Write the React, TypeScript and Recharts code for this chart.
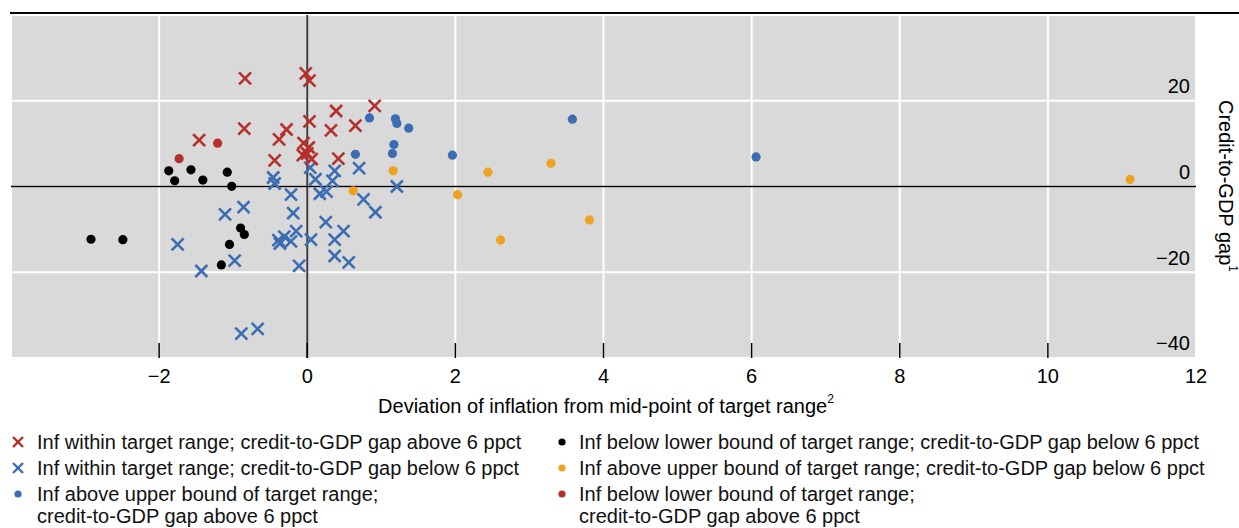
import React from "react";
import {
  ScatterChart,
  Scatter,
  XAxis,
  YAxis,
  CartesianGrid,
  ReferenceLine,
} from "recharts";

type Pt = { x: number; y: number };

// Inflation within target range, credit-to-GDP gap above 6 ppct
const withinHighGap: Pt[] = [
  { x: -0.84, y: 25.2 },
  { x: -0.02, y: 26.4 },
  { x: 0.03, y: 24.7 },
  { x: 0.39, y: 17.6 },
  { x: 0.91, y: 18.8 },
  { x: -0.85, y: 13.5 },
  { x: -0.28, y: 13.3 },
  { x: 0.03, y: 15.2 },
  { x: 0.32, y: 13.1 },
  { x: 0.65, y: 14.2 },
  { x: -1.46, y: 10.8 },
  { x: -0.38, y: 11.0 },
  { x: -0.05, y: 10.1 },
  { x: 0.02, y: 9.1 },
  { x: -0.06, y: 7.3 },
  { x: 0.0, y: 7.7 },
  { x: 0.06, y: 6.4 },
  { x: -0.44, y: 6.1 },
  { x: 0.42, y: 6.5 },
];

// Inflation within target range, credit-to-GDP gap below 6 ppct
const withinLowGap: Pt[] = [
  { x: 0.04, y: 4.4 },
  { x: -0.46, y: 2.1 },
  { x: -0.44, y: 0.7 },
  { x: 0.11, y: 1.7 },
  { x: 0.37, y: 3.65 },
  { x: 0.34, y: 1.3 },
  { x: 0.7, y: 4.3 },
  { x: 1.21, y: 0.0 },
  { x: -0.22, y: -1.9 },
  { x: 0.17, y: -1.7 },
  { x: 0.26, y: -1.2 },
  { x: 0.76, y: -3.0 },
  { x: -0.86, y: -4.8 },
  { x: -1.11, y: -6.5 },
  { x: -0.19, y: -6.2 },
  { x: -0.15, y: -10.4 },
  { x: -1.75, y: -13.5 },
  { x: -0.39, y: -12.5 },
  { x: -0.31, y: -11.7 },
  { x: -0.37, y: -13.3 },
  { x: -0.22, y: -12.8 },
  { x: 0.05, y: -12.4 },
  { x: -0.98, y: -17.3 },
  { x: -1.43, y: -19.7 },
  { x: -0.11, y: -18.5 },
  { x: -0.89, y: -34.3 },
  { x: -0.67, y: -33.2 },
  { x: 0.92, y: -6.0 },
  { x: 0.25, y: -8.3 },
  { x: 0.37, y: -12.4 },
  { x: 0.49, y: -10.4 },
  { x: 0.37, y: -16.2 },
  { x: 0.56, y: -17.7 },
];

// Inflation above upper bound, gap above 6 ppct
const aboveHighGap: Pt[] = [
  { x: 0.84, y: 16.0 },
  { x: 1.19, y: 15.8 },
  { x: 1.21, y: 14.7 },
  { x: 1.37, y: 13.6 },
  { x: 1.17, y: 9.8 },
  { x: 1.15, y: 7.7 },
  { x: 0.65, y: 7.5 },
  { x: 1.96, y: 7.3 },
  { x: 3.58, y: 15.7 },
  { x: 6.06, y: 6.9 },
];

// Inflation above upper bound, gap below 6 ppct
const aboveLowGap: Pt[] = [
  { x: 1.16, y: 3.65 },
  { x: 0.62, y: -1.0 },
  { x: 2.44, y: 3.35 },
  { x: 3.29, y: 5.4 },
  { x: 2.03, y: -1.9 },
  { x: 2.61, y: -12.5 },
  { x: 3.81, y: -7.8 },
  { x: 11.11, y: 1.66 },
];

// Inflation below lower bound, gap below 6 ppct
const belowLowGap: Pt[] = [
  { x: -1.87, y: 3.65 },
  { x: -1.79, y: 1.34 },
  { x: -1.57, y: 3.9 },
  { x: -1.41, y: 1.5 },
  { x: -1.08, y: 3.35 },
  { x: -1.02, y: 0.05 },
  { x: -2.92, y: -12.3 },
  { x: -2.49, y: -12.4 },
  { x: -0.9, y: -9.7 },
  { x: -0.85, y: -11.2 },
  { x: -1.05, y: -13.5 },
  { x: -1.16, y: -18.3 },
];

// Inflation below lower bound, gap above 6 ppct
const belowHighGap: Pt[] = [
  { x: -1.21, y: 10.1 },
  { x: -1.73, y: 6.5 },
];

const xTicks = [-2, 0, 2, 4, 6, 8, 10, 12];
const yTicks = [-40, -20, 0, 20];

const RED = "#b52f2d";
const BLUE = "#3b6db3";
const ORANGE = "#eea21f";
const BLACK = "#000000";

const FONT = '"Liberation Sans", Arial, Helvetica, sans-serif';
const FS = 20;

const fmt = (v: number) => (v < 0 ? `\u2212${Math.abs(v)}` : `${v}`);

const crossShape = (color: string) => (props: any) => {
  const { cx, cy } = props;
  const d = 6;
  return (
    <g stroke={color} strokeWidth={2.6}>
      <line x1={cx - d} y1={cy - d} x2={cx + d} y2={cy + d} />
      <line x1={cx - d} y1={cy + d} x2={cx + d} y2={cy - d} />
    </g>
  );
};

const dotShape = (color: string) => (props: any) => (
  <circle cx={props.cx} cy={props.cy} r={4.6} fill={color} />
);

function XTick({ x, y, payload }: any) {
  const v = payload.value as number;
  return (
    <g>
      {v !== 12 && <line x1={x} y1={y - 15} x2={x} y2={y} stroke="#000" strokeWidth={1.5} />}
      <text x={x} y={y + 20} textAnchor="middle" dominantBaseline="middle" fontSize={FS} fill="#000" fontFamily={FONT}>
        {fmt(v)}
      </text>
    </g>
  );
}

function YTick({ x, y, payload }: any) {
  return (
    <text x={x - 6} y={y - 13} textAnchor="end" dominantBaseline="middle" fontSize={FS} fill="#000" fontFamily={FONT}>
      {fmt(payload.value)}
    </text>
  );
}

function LegendMark({ kind, color }: { kind: "x" | "o"; color: string }) {
  return (
    <svg width={14} height={14} style={{ position: "absolute", left: -7, top: -7 }}>
      {kind === "x" ? (
        <g stroke={color} strokeWidth={2.4}>
          <line x1={2} y1={2} x2={12} y2={12} />
          <line x1={2} y1={12} x2={12} y2={2} />
        </g>
      ) : (
        <circle cx={7} cy={7} r={3.6} fill={color} />
      )}
    </svg>
  );
}

const legendItems = [
  { col: 0, row: 0, kind: "x", color: RED, lines: ["Inf within target range; credit-to-GDP gap above 6 ppct"] },
  { col: 0, row: 1, kind: "x", color: BLUE, lines: ["Inf within target range; credit-to-GDP gap below 6 ppct"] },
  { col: 0, row: 2, kind: "o", color: BLUE, lines: ["Inf above upper bound of target range;", "credit-to-GDP gap above 6 ppct"] },
  { col: 1, row: 0, kind: "o", color: BLACK, lines: ["Inf below lower bound of target range; credit-to-GDP gap below 6 ppct"] },
  { col: 1, row: 1, kind: "o", color: ORANGE, lines: ["Inf above upper bound of target range; credit-to-GDP gap below 6 ppct"] },
  { col: 1, row: 2, kind: "o", color: RED, lines: ["Inf below lower bound of target range;", "credit-to-GDP gap above 6 ppct"] },
] as const;

export default function App() {
  return (
    <div style={{ position: "absolute", left: 0, top: 0, width: 1239, height: 528, background: "#fff", fontFamily: FONT }}>
      <div style={{ position: "absolute", left: 10, right: 0, top: 12, height: 1.5, background: "#000" }} />
      <div style={{ position: "absolute", left: 0, top: 0 }}>
        <ScatterChart width={1239} height={430} margin={{ top: 15, right: 0, bottom: 0, left: 11 }}>
          <CartesianGrid stroke="#ffffff" strokeWidth={2} fill="#d9d9d9" fillOpacity={1} />
          <XAxis
            type="number"
            dataKey="x"
            domain={[-4, 12]}
            ticks={xTicks}
            axisLine={false}
            tickLine={false}
            tickSize={0}
            tickMargin={0}
            height={72}
            tick={<XTick />}
            label={{
              content: () => (
                <text x={606} y={408} textAnchor="middle" dominantBaseline="middle" fontSize={FS} fill="#000" fontFamily={FONT}>
                  Deviation of inflation from mid-point of target range
                  <tspan fontSize={12} dy={-8}>2</tspan>
                </text>
              ),
            }}
          />
          <YAxis
            type="number"
            dataKey="y"
            orientation="right"
            domain={[-40, 40]}
            ticks={yTicks}
            axisLine={false}
            tickLine={false}
            tickSize={0}
            tickMargin={0}
            width={43}
            tick={<YTick />}
            label={{
              content: () => (
                <text
                  x={1224}
                  y={186}
                  transform="rotate(90 1224 186)"
                  textAnchor="middle"
                  dominantBaseline="middle"
                  fontSize={FS}
                  fill="#000"
                  fontFamily={FONT}
                >
                  Credit-to-GDP gap
                  <tspan fontSize={12} dy={-8}>1</tspan>
                </text>
              ),
            }}
          />
          <ReferenceLine x={0} stroke="#3c3c3c" strokeWidth={2} />
          <ReferenceLine y={0} stroke="#000" strokeWidth={1.6} />
          <Scatter data={belowLowGap} shape={dotShape(BLACK)} isAnimationActive={false} />
          <Scatter data={belowHighGap} shape={dotShape(RED)} isAnimationActive={false} />
          <Scatter data={aboveHighGap} shape={dotShape(BLUE)} isAnimationActive={false} />
          <Scatter data={aboveLowGap} shape={dotShape(ORANGE)} isAnimationActive={false} />
          <Scatter data={withinLowGap} shape={crossShape(BLUE)} isAnimationActive={false} />
          <Scatter data={withinHighGap} shape={crossShape(RED)} isAnimationActive={false} />
        </ScatterChart>
      </div>
      {legendItems.map((it, i) => {
        const left = it.col === 0 ? 18 : 562;
        const top = [442, 468, 494][it.row];
        return (
          <div key={i} style={{ position: "absolute", left, top }}>
            <LegendMark kind={it.kind} color={it.color} />
            <div
              style={{
                position: "absolute",
                left: it.col === 0 ? 19 : 17,
                top: -11,
                whiteSpace: "nowrap",
                fontSize: FS,
                lineHeight: "22px",
                color: "#111",
              }}
            >
              {it.lines.map((l, j) => (
                <div key={j}>{l}</div>
              ))}
            </div>
          </div>
        );
      })}
    </div>
  );
}
